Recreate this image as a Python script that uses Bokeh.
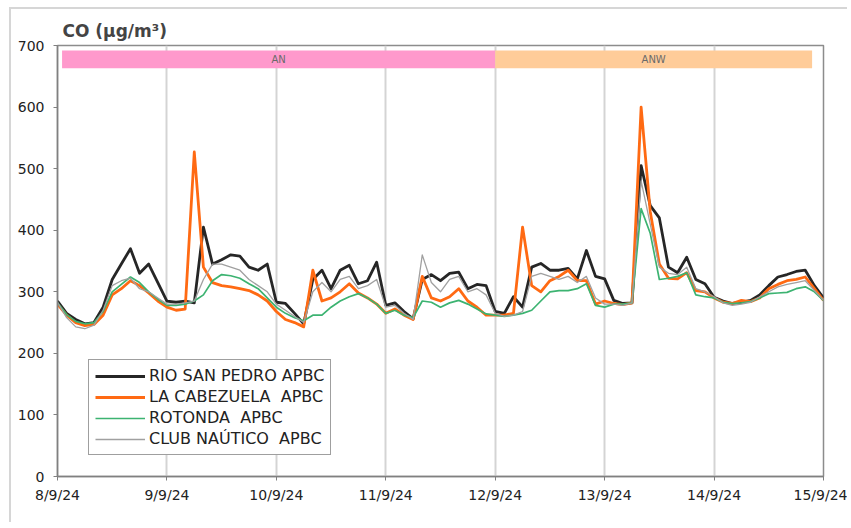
from bokeh.plotting import figure
from bokeh.models import FixedTicker, Legend, LegendItem, ColumnDataSource
from bokeh.core.properties import value
from bokeh.embed import file_html
from bokeh.resources import INLINE

# ---- data (2-hourly readings from 8/9/24 00:00 to 15/9/24 00:00) ----
hours = list(range(0, 169, 2))
tick_hours = [0, 24, 48, 72, 96, 120, 144, 168]
tick_labels = ["8/9/24", "9/9/24", "10/9/24", "11/9/24", "12/9/24", "13/9/24", "14/9/24", "15/9/24"]

rio_san_pedro = [285, 265, 255, 248, 250, 275, 320, 345, 370, 330, 345, 315, 285,
                 283, 285, 282, 405, 345, 352, 360, 358, 340, 335, 345, 283,
                 281, 265, 248, 320, 335, 305, 335, 343, 313, 318, 348, 278,
                 282, 268, 256, 320, 328, 318, 330, 332, 305, 312, 310, 268,
                 265, 292, 275, 340, 346, 335, 335, 338, 321, 367, 325, 321,
                 286, 281, 282, 505, 440, 420, 340, 331, 356, 320, 313, 291,
                 285, 281, 283, 286, 295, 310, 324, 328, 333, 335, 310, 290]
la_cabezuela = [280, 262, 250, 245, 247, 262, 295, 305, 318, 310, 298, 285, 275,
                270, 272, 527, 340, 315, 310, 308, 305, 302, 295, 285, 268,
                255, 250, 243, 335, 285, 290, 300, 313, 298, 290, 280, 265,
                272, 262, 255, 325, 290, 285, 292, 305, 285, 275, 262, 262,
                262, 265, 405, 310, 300, 318, 325, 335, 318, 318, 280, 285,
                281, 279, 282, 600, 430, 345, 322, 321, 331, 302, 300, 290,
                283, 281, 286, 284, 290, 305, 312, 318, 320, 324, 305, 286]
rotonda = [282, 263, 252, 248, 250, 268, 300, 312, 324, 315, 300, 288, 278,
           278, 280, 285, 295, 318, 328, 326, 322, 313, 305, 290, 275,
           265, 258, 253, 262, 262, 275, 285, 292, 297, 290, 280, 265,
           270, 262, 258, 285, 283, 275, 282, 286, 280, 272, 264, 262,
           260, 262, 265, 270, 285, 300, 302, 302, 305, 313, 278, 275,
           280, 280, 282, 435, 395, 320, 322, 325, 331, 295, 292, 290,
           283, 281, 282, 284, 290, 297, 298, 299, 305, 308, 300, 286]
club_nautico = [283, 258, 243, 240, 246, 270, 310, 318, 322, 305, 300, 290, 280,
                280, 282, 285, 320, 345, 345, 340, 335, 320, 310, 300, 280,
                270, 260, 250, 300, 315, 300, 320, 325, 305, 310, 320, 275,
                278, 265, 255, 360, 315, 300, 320, 325, 300, 305, 295, 265,
                260, 262, 268, 325, 330, 325, 320, 325, 315, 325, 290, 280,
                280, 278, 282, 480, 410, 340, 330, 328, 340, 305, 300, 292,
                282, 278, 280, 283, 292, 300, 308, 312, 315, 318, 302, 286]

series_names = ["RIO SAN PEDRO APBC", "LA CABEZUELA  APBC", "ROTONDA  APBC", "CLUB NAÚTICO  APBC"]

# episode bands
band_names = ["AN", "ANW"]
band_start = [1, 96]
band_end = [96, 165.5]

# ---- styles ----
series_colors = ["#262626", "#FF6A13", "#3CB371", "#A0A0A0"]
series_widths = [2.8, 2.8, 1.7, 1.3]
band_colors = ["#FF99CC", "#FFCC99"]

p = figure(width=838, height=515, x_range=(0, 168), y_range=(0, 700),
           output_backend="svg", toolbar_location=None,
           min_border_left=46, min_border_right=26, min_border_top=36, min_border_bottom=48)
p.styles = {"margin-left": "9px", "margin-top": "7px",
            "border-left": "2px solid #d6d6d6", "border-top": "2px solid #d6d6d6"}

p.title.text = "CO (µg/m³)"
p.title.text_font = "DejaVu Sans"
p.title.text_font_size = "17px"
p.title.text_font_style = "bold"
p.title.align = "left"
p.title.offset = 5
p.title.standoff = 9

p.outline_line_color = "#8c8c8c"
p.outline_line_width = 1.5
p.background_fill_color = "white"

# axes
p.xaxis.ticker = FixedTicker(ticks=tick_hours)
p.xaxis.major_label_overrides = {h: l for h, l in zip(tick_hours, tick_labels)}
p.xaxis.minor_tick_line_color = None
p.xaxis.major_tick_in = 0
p.xaxis.major_tick_out = 4
p.xaxis.axis_line_color = "#808080"
p.xaxis.axis_line_width = 1.5
p.xaxis.major_tick_line_color = "#808080"
p.xaxis.major_label_text_font = "DejaVu Sans"
p.xaxis.major_label_text_font_size = "14px"
p.xaxis.major_label_text_color = "#222222"
p.xaxis.major_label_standoff = 6

p.yaxis.ticker = FixedTicker(ticks=[0, 100, 200, 300, 400, 500, 600, 700])
p.yaxis.minor_tick_line_color = None
p.yaxis.major_tick_in = 0
p.yaxis.major_tick_out = 4
p.yaxis.axis_line_color = "#808080"
p.yaxis.axis_line_width = 1.5
p.yaxis.major_tick_line_color = "#808080"
p.yaxis.major_label_text_font = "DejaVu Sans"
p.yaxis.major_label_text_font_size = "14px"
p.yaxis.major_label_text_color = "#222222"
p.yaxis.major_label_standoff = 9

p.xgrid.ticker = FixedTicker(ticks=tick_hours)
p.xgrid.grid_line_color = "#d4d4d4"
p.xgrid.grid_line_width = 2
p.ygrid.grid_line_color = None

# bands
bsrc = ColumnDataSource(dict(left=band_start, right=band_end, color=band_colors, name=band_names,
                             mid=[(a + b) / 2 for a, b in zip(band_start, band_end)]))
p.quad(left="left", right="right", bottom=663, top=692, fill_color="color", line_color=None, source=bsrc)
p.text(x="mid", y=677.5, text="name", source=bsrc, text_align="center", text_baseline="middle",
       text_font=value("DejaVu Sans"), text_font_size="10px", text_color="#6a6a6a")

# lines
items = []
for name, vals, col, w in zip(series_names, [rio_san_pedro, la_cabezuela, rotonda, club_nautico],
                              series_colors, series_widths):
    r = p.line(hours, vals, line_color=col, line_width=w, line_join="round")
    items.append(LegendItem(label=name, renderers=[r]))

legend = Legend(items=items, location=(31, 21))
legend.border_line_color = "#404040"
legend.border_line_width = 1
legend.background_fill_color = "white"
legend.background_fill_alpha = 1
legend.label_text_font = "DejaVu Sans"
legend.label_text_font_size = "16px"
legend.label_text_color = "#222222"
legend.glyph_width = 50
legend.glyph_height = 18
legend.label_height = 18
legend.spacing = 2
legend.padding = 6
legend.margin = 0
legend.label_standoff = 4
p.add_layout(legend)

open("out.html", "w").write(file_html(p, INLINE))
